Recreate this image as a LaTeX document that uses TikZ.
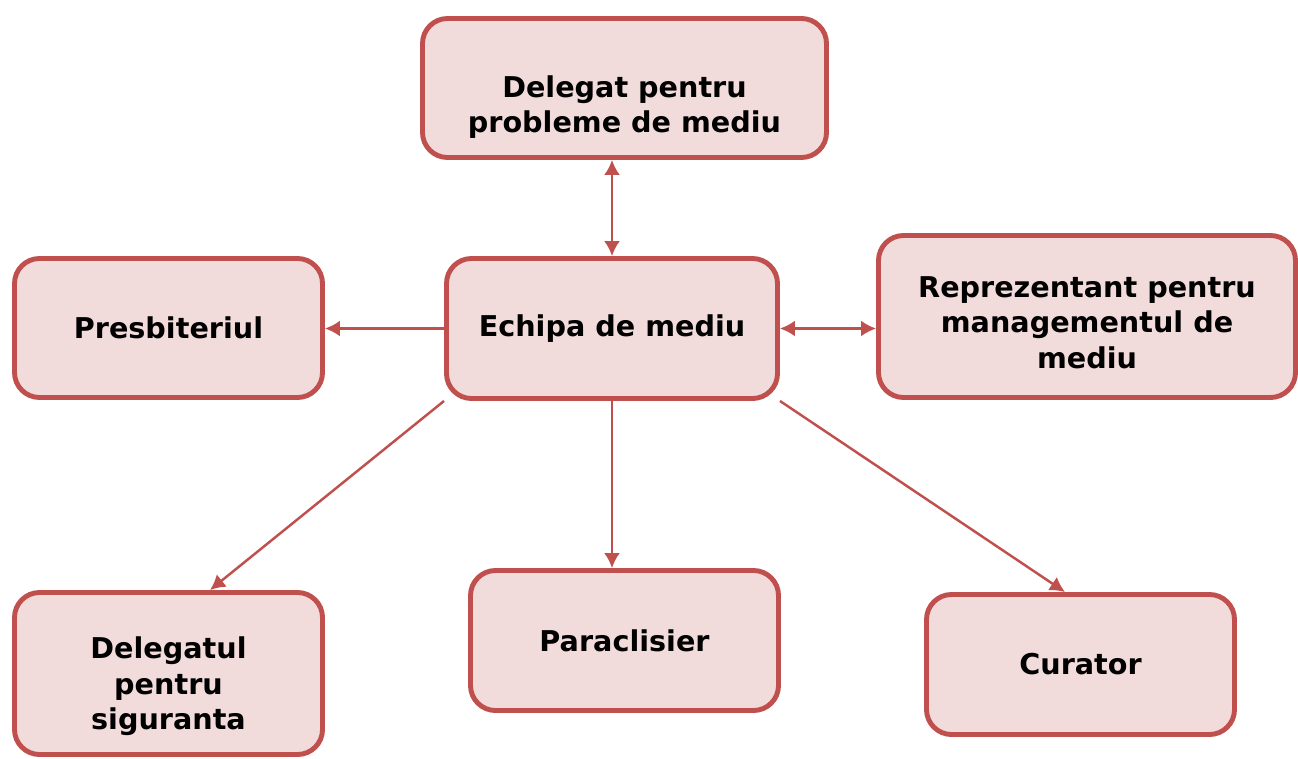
\documentclass[tikz,border=0pt]{standalone}
\usepackage{fontspec}
\setmainfont{DejaVu Sans}
\usetikzlibrary{arrows.meta}
\definecolor{boxline}{HTML}{C0504D}
\definecolor{boxfill}{HTML}{F2DCDB}
\tikzset{
  block/.style={
    rectangle,
    rounded corners=0.5cm,
    draw=boxline,
    line width=2.8pt,
    fill=boxfill,
    align=center,
    inner sep=0pt,
    font=\fontsize{16.3}{20}\selectfont\bfseries
  }
}
\tikzstyle{arrow} = [->, > = {Latex[length=0.3cm, width=0.32cm]}, draw=boxline, line width=1.4pt]

\begin{document}
\begin{tikzpicture}
    \useasboundingbox (0,0) rectangle (25.96,-15.16);
    \node[block, minimum width=6.62cm, minimum height=2.8cm] (echipa) at (12.24, -6.57) {Echipa de mediu};
    \node[block, minimum width=8.08cm, minimum height=2.78cm, text height=54pt] (delegat) at (12.49, -1.76) {Delegat pentru\\probleme de mediu};
    \node[block, minimum width=6.16cm, minimum height=2.78cm] (presb) at (3.37, -6.56) {Presbiteriul};
    \node[block, minimum width=8.34cm, minimum height=3.24cm, text height=59pt] (repr) at (21.74, -6.33) {Reprezentant pentru\\managementul de\\mediu};
    \node[block, minimum width=6.16cm, minimum height=3.24cm, text height=67pt] (sigur) at (3.37, -13.47) {Delegatul\\pentru\\siguranta};
    \node[block, minimum width=6.16cm, minimum height=2.8cm] (paracl) at (12.49, -12.81) {Paraclisier};
    \node[block, minimum width=6.16cm, minimum height=2.8cm] (curator) at (21.61, -13.29) {Curator};
    \draw[arrow, <->] (echipa.north) -- (echipa.north |- delegat.south);
    \draw[arrow] (echipa.west) -- (echipa.west -| presb.east);
    \draw[arrow, <->] (echipa.east) -- (echipa.east -| repr.west);
    \draw[arrow] (echipa.south west) -- (4.2,0 |- sigur.north);
    \draw[arrow] (echipa.south) -- (echipa.south |- paracl.north);
    \draw[arrow] (echipa.south east) -- (21.3,0 |- curator.north);
\end{tikzpicture}
\end{document}
